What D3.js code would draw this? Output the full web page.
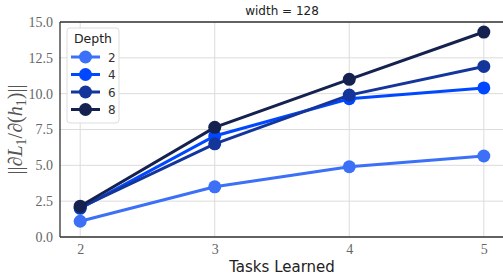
<!DOCTYPE html>
<html>
<head>
<meta charset="utf-8">
<script src="https://cdn.jsdelivr.net/npm/d3@7"></script>
<style>
  body { margin: 0; background: #fff; }
  svg { display: block; }
</style>
</head>
<body>
<svg id="chart" width="503" height="276"></svg>
<script>
// chart data
var tasks = [2, 3, 4, 5];
var depths = ['2', '4', '6', '8'];
var depth2 = [1.1, 3.5, 4.9, 5.65];
var depth4 = [2.0, 7.05, 9.65, 10.4];
var depth6 = [2.05, 6.5, 9.9, 11.9];
var depth8 = [2.15, 7.65, 11.0, 14.3];
var yTicks = [0, 2.5, 5, 7.5, 10, 12.5, 15];
var colors = ['#3b70f7', '#0048ff', '#14369a', '#15224f'];

var series = [depth2, depth4, depth6, depth8];

var svg = d3.select('#chart');
var W = 503, H = 276;
var m = {top: 22, left: 60, right: -1, bottom: 39};

var x = d3.scaleLinear().domain([1.85, 5.15]).range([m.left, W - m.right]);
var y = d3.scaleLinear().domain([0, 15]).range([H - m.bottom, m.top]);

var serif = '"Liberation Serif", "DejaVu Serif", serif';

// grid
svg.append('g').selectAll('line').data(yTicks).enter().append('line')
    .attr('x1', m.left).attr('x2', W)
    .attr('y1', function(d) { return y(d); }).attr('y2', function(d) { return y(d); })
    .attr('stroke', '#dcdcdc').attr('stroke-width', 1);
svg.append('g').selectAll('line').data(tasks).enter().append('line')
    .attr('y1', m.top).attr('y2', H - m.bottom)
    .attr('x1', function(d) { return x(d); }).attr('x2', function(d) { return x(d); })
    .attr('stroke', '#dcdcdc').attr('stroke-width', 1);

// axes
var xAxis = svg.append('g')
    .attr('transform', 'translate(0,' + (H - m.bottom) + ')')
    .call(d3.axisBottom(x).tickValues(tasks).tickSize(0).tickPadding(7).tickFormat(d3.format('d')));
var yAxis = svg.append('g')
    .attr('transform', 'translate(' + m.left + ',0)')
    .call(d3.axisLeft(y).tickValues(yTicks).tickSize(0).tickPadding(7).tickFormat(d3.format('.1f')));

[xAxis, yAxis].forEach(function(a) {
    a.attr('font-family', serif).attr('font-size', 14);
    a.select('.domain').remove();
    a.selectAll('text').attr('fill', '#666');
});

// spines
svg.append('line').attr('x1', m.left).attr('x2', W).attr('y1', m.top).attr('y2', m.top)
    .attr('stroke', '#333').attr('stroke-width', 1.3);
svg.append('line').attr('x1', m.left).attr('x2', W).attr('y1', H - m.bottom).attr('y2', H - m.bottom)
    .attr('stroke', '#333').attr('stroke-width', 1.3);
svg.append('line').attr('x1', m.left).attr('x2', m.left).attr('y1', m.top).attr('y2', H - m.bottom)
    .attr('stroke', '#333').attr('stroke-width', 1.3);

// lines + markers
var line = d3.line()
    .x(function(d, i) { return x(tasks[i]); })
    .y(function(d) { return y(d); });

series.forEach(function(s, k) {
    var g = svg.append('g');
    g.append('path').datum(s)
        .attr('d', line)
        .attr('fill', 'none')
        .attr('stroke', colors[k])
        .attr('stroke-width', 3);
    g.selectAll('circle').data(s).enter().append('circle')
        .attr('cx', function(d, i) { return x(tasks[i]); })
        .attr('cy', function(d) { return y(d); })
        .attr('r', 6.5)
        .attr('fill', colors[k]);
});

// title and labels
svg.append('text')
    .attr('x', 282).attr('y', 15)
    .attr('text-anchor', 'middle')
    .style('font-family', '"DejaVu Sans", sans-serif')
    .style('font-size', '12px')
    .attr('fill', '#222')
    .text('width = 128');

svg.append('text')
    .attr('x', 282).attr('y', 272)
    .attr('text-anchor', 'middle')
    .style('font-family', '"DejaVu Sans", sans-serif')
    .style('font-size', '15px')
    .attr('fill', '#222')
    .text('Tasks Learned');

var yl = svg.append('text')
    .attr('transform', 'translate(22,' + ((m.top + H - m.bottom) / 2) + ') rotate(-90)')
    .attr('text-anchor', 'middle')
    .style('font-family', serif)
    .style('font-size', '20px')
    .attr('fill', '#555');
yl.append('tspan').text('||\u2202');
yl.append('tspan').style('font-style', 'italic').text('L');
yl.append('tspan').attr('dy', 4).style('font-size', '14px').text('1');
yl.append('tspan').attr('dy', -4).text('/\u2202(');
yl.append('tspan').style('font-style', 'italic').text('h');
yl.append('tspan').attr('dy', 4).style('font-size', '14px').text('1');
yl.append('tspan').attr('dy', -4).text(')||');

// legend
var lg = svg.append('g').attr('transform', 'translate(67,28)');
lg.append('rect')
    .attr('width', 52).attr('height', 95).attr('rx', 3)
    .attr('fill', 'rgba(255,255,255,0.85)')
    .attr('stroke', '#ddd');
lg.append('text')
    .attr('x', 26).attr('y', 15)
    .attr('text-anchor', 'middle')
    .style('font-family', '"DejaVu Sans", sans-serif')
    .style('font-size', '12.5px')
    .attr('fill', '#222')
    .text('Depth');
var items = lg.selectAll('.item').data(depths).enter().append('g')
    .attr('transform', function(d, i) { return 'translate(0,' + (29 + i * 17.5) + ')'; });
items.append('line')
    .attr('x1', 4).attr('x2', 33)
    .attr('stroke', function(d, i) { return colors[i]; })
    .attr('stroke-width', 3);
items.append('circle')
    .attr('cx', 18.5).attr('r', 6.5)
    .attr('fill', function(d, i) { return colors[i]; });
items.append('text')
    .attr('x', 41).attr('y', 4.5)
    .style('font-family', '"DejaVu Sans", sans-serif')
    .style('font-size', '12px')
    .attr('fill', '#333')
    .text(function(d) { return d; });
</script>
</body>
</html>
